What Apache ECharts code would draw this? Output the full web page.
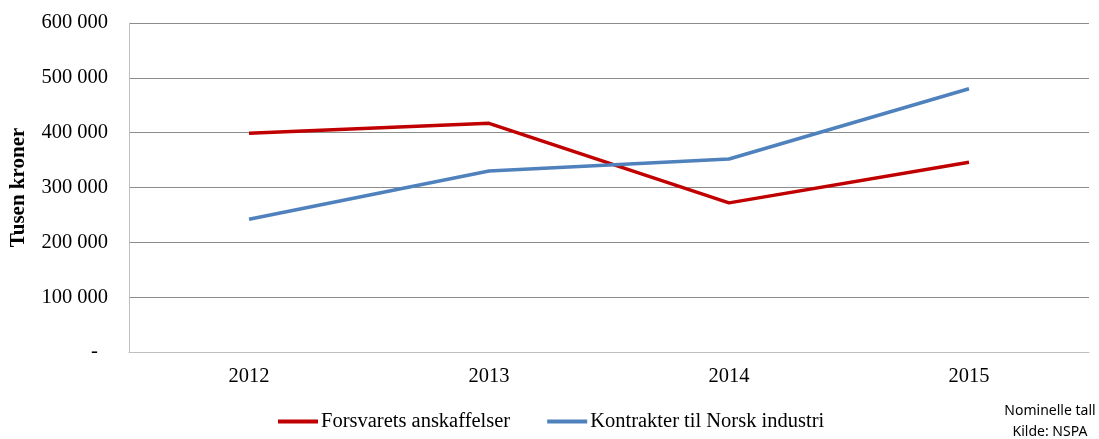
<!DOCTYPE html>
<html>
<head>
<meta charset="utf-8">
<script src="https://cdn.jsdelivr.net/npm/echarts@6/dist/echarts.min.js"></script>
<style>
  html, body { margin: 0; padding: 0; background: #fff; }
  #chart { width: 1099px; height: 439px; }
</style>
</head>
<body>
<div id="chart"></div>
<script>
var years = ['2012', '2013', '2014', '2015'];
var forsvaret = [399000, 417000, 272000, 346000];
var kontrakter = [242000, 330000, 352000, 480000];
var seriesNames = ['Forsvarets anskaffelser', 'Kontrakter til Norsk industri'];

var serif = '"Liberation Serif", "Times New Roman", serif';

function fmt(v) {
    if (v === 0) return '-  ';
    return String(v).replace(/\B(?=(\d{3})+(?!\d))/g, ' ');
}

var chart = echarts.init(document.getElementById('chart'));
chart.setOption({
    animation: false,
    textStyle: { fontFamily: serif },
    grid: { left: 129, right: 10, top: 23, bottom: 87 },
    legend: {
        left: 273,
        top: 406,
        itemWidth: 40,
        itemHeight: 4,
        itemGap: 37,
        icon: 'rect',
        textStyle: { fontFamily: serif, fontSize: 20.5, color: '#000', padding: [0, 0, 0, -2] },
        data: seriesNames
    },
    xAxis: {
        type: 'category',
        data: years,
        boundaryGap: true,
        axisLine: { lineStyle: { color: '#bfbfbf', width: 1 } },
        axisTick: { show: false },
        axisLabel: { color: '#000', fontSize: 20.5, margin: 14, fontFamily: serif }
    },
    yAxis: {
        type: 'value',
        min: 0,
        max: 600000,
        interval: 100000,
        name: 'Tusen kroner',
        nameLocation: 'middle',
        nameGap: 100,
        nameTextStyle: { fontFamily: serif, fontSize: 21, fontWeight: 'bold', color: '#000' },
        axisLine: { show: true, lineStyle: { color: '#bfbfbf', width: 1 } },
        axisTick: { show: false },
        splitLine: { lineStyle: { color: '#8c8c8c', width: 1 } },
        axisLabel: { color: '#000', fontSize: 20.5, margin: 21, fontFamily: serif, formatter: fmt }
    },
    series: [
        {
            name: seriesNames[0],
            type: 'line',
            data: forsvaret,
            symbol: 'none',
            lineStyle: { color: '#c00000', width: 3.5 },
            itemStyle: { color: '#c00000' }
        },
        {
            name: seriesNames[1],
            type: 'line',
            data: kontrakter,
            symbol: 'none',
            lineStyle: { color: '#4f81bd', width: 3.5 },
            itemStyle: { color: '#4f81bd' }
        }
    ],
    graphic: [
        {
            type: 'text',
            x: 1050,
            y: 401,
            style: {
                text: 'Nominelle tall\nKilde: NSPA',
                font: '14px "Noto Sans", "Liberation Sans", sans-serif',
                fill: '#000',
                align: 'center',
                lineHeight: 21
            }
        }
    ]
});
</script>
</body>
</html>
